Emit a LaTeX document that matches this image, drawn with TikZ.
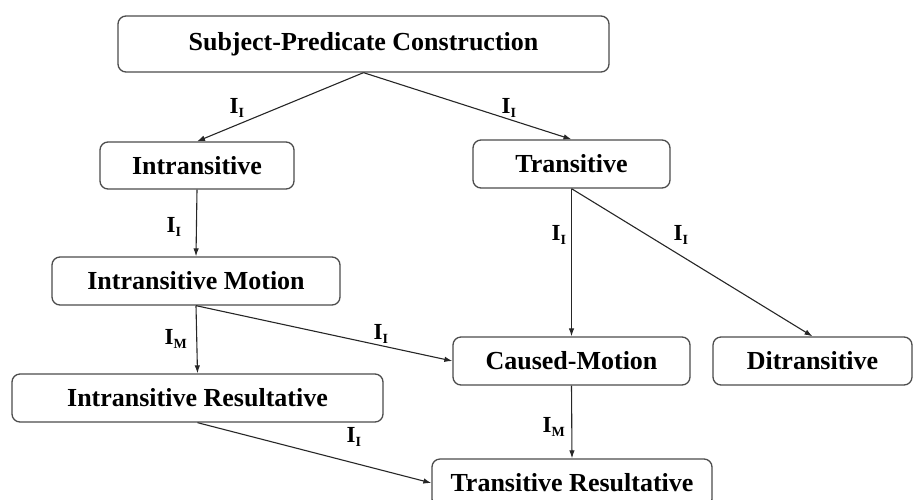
\documentclass[tikz,border=0pt]{standalone}
\usepackage{fontspec}
\setmainfont{Liberation Serif}
\usetikzlibrary{arrows.meta}
\begin{document}
\begin{tikzpicture}[x=1pt,y=-1pt,
  box/.style={draw=black!70,line width=1.3pt,rounded corners=8pt,inner sep=0pt,
    font=\fontsize{26}{30}\selectfont\bfseries},
  arr/.style={draw=black!85,line width=1.1pt,-{Latex[length=8pt,width=5.5pt]}},
  lab/.style={font=\fontsize{23}{26}\selectfont\bfseries,inner sep=0pt}]
\useasboundingbox (0,0) rectangle (915,499);
\clip (0,0) rectangle (915,499);
\node[box,minimum width=491pt,minimum height=56pt] (sp) at (363.5,44) {Subject-Predicate Construction};
\node[box,minimum width=194pt,minimum height=47pt] (intr) at (197,165.5) {Intransitive};
\node[box,minimum width=197pt,minimum height=48pt] (trans) at (571.5,164) {Transitive};
\node[box,minimum width=288pt,minimum height=48pt] (im) at (196,281) {Intransitive Motion};
\node[box,minimum width=237pt,minimum height=48pt] (cm) at (571.5,361) {Caused-Motion};
\node[box,minimum width=199pt,minimum height=48pt] (di) at (812.5,361) {Ditransitive};
\node[box,minimum width=371pt,minimum height=48pt] (ir) at (197.5,398) {Intransitive Resultative};
\node[box,minimum width=280pt,minimum height=48pt] (tr) at (572,483) {Transitive Resultative};
\draw[arr] (sp.south) -- (intr.north);
\draw[arr] (sp.south) -- (trans.north);
\draw[arr] (intr.south) -- (im.north);
\draw[arr] (trans.south) -- (cm.north);
\draw[arr] (trans.south) -- (di.north);
\draw[arr] (im.south) -- (cm.west);
\draw[arr] (im.south) -- (ir.north);
\draw[arr] (cm.south) -- (tr.north);
\draw[arr] (ir.south) -- (tr.west);
\newcommand{\lbII}{I\textsubscript{\fontsize{14}{15}\selectfont I}}
\newcommand{\lbIM}{I\textsubscript{\fontsize{14}{15}\selectfont M}}
\node[lab] (l1) at (237,108) {\lbII};
\node[lab] (l2) at (509,108) {\lbII};
\node[lab] (l3) at (174,227) {\lbII};
\node[lab] (l4) at (559,235) {\lbII};
\node[lab] (l5) at (681,235) {\lbII};
\node[lab] (l6) at (176,339) {\lbIM};
\node[lab] (l7) at (381,334) {\lbII};
\node[lab] (l8) at (554,427) {\lbIM};
\node[lab] (l9) at (354,437) {\lbII};
\end{tikzpicture}
\end{document}
